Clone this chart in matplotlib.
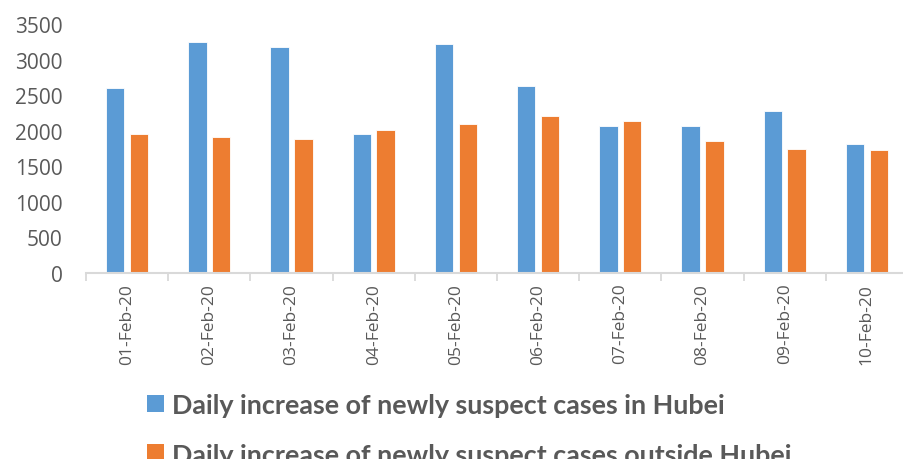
import matplotlib
matplotlib.use("Agg")
import matplotlib.pyplot as plt
import numpy as np

dates = ["01-Feb-20", "02-Feb-20", "03-Feb-20", "04-Feb-20", "05-Feb-20",
         "06-Feb-20", "07-Feb-20", "08-Feb-20", "09-Feb-20", "10-Feb-20"]
hubei = [2600, 3253, 3173, 1960, 3220, 2622, 2072, 2062, 2273, 1811]
outside = [1950, 1913, 1890, 2011, 2100, 2208, 2137, 1853, 1736, 1722]
series_names = ["Daily increase of newly suspect cases in Hubei",
                "Daily increase of newly suspect cases outside Hubei"]
yticks = [0, 500, 1000, 1500, 2000, 2500, 3000, 3500]

BLUE = "#5B9BD5"
ORANGE = "#ED7D31"
GRAY = "#595959"

W, H = 904, 460
fig = plt.figure(figsize=(W / 100, H / 100), dpi=100)
ax = fig.add_axes([86 / W, (H - 274) / H, (908 - 86) / W, (274 - 25) / H])

x = np.arange(len(dates))
bw = 0.225
b1 = ax.bar(x - 0.145, hubei, bw, color=BLUE, edgecolor="white", linewidth=0.6,
            label=series_names[0])
b2 = ax.bar(x + 0.145, outside, bw, color=ORANGE, edgecolor="white", linewidth=0.6,
            label=series_names[1])

ax.set_xlim(-0.5, len(dates) - 0.5)
ax.set_ylim(0, 3500)
ax.set_yticks(yticks)
ax.set_yticklabels([str(v) for v in yticks], fontfamily="Open Sans", fontsize=15, color=GRAY)
ax.tick_params(axis="y", length=0, pad=17)

ax.set_xticks(x)
ax.set_xticklabels(dates, rotation=90, fontfamily="Open Sans", fontsize=12.5, color=GRAY)
ax.tick_params(axis="x", which="major", length=0, pad=7)
ax.set_xticks(np.arange(-0.5, len(dates), 1.0), minor=True)
ax.tick_params(axis="x", which="minor", length=6, width=1.3, color="#D9D9D9", direction="out")

for s in ["left", "right", "top"]:
    ax.spines[s].set_visible(False)
ax.spines["bottom"].set_color("#D9D9D9")
ax.spines["bottom"].set_linewidth(1.5)

leg = fig.legend(handles=[b1, b2], labels=series_names, loc="upper left",
                 bbox_to_anchor=(147 / W, 1 - 394 / H), frameon=False,
                 prop={"family": "Lato", "weight": "bold", "size": 19.4},
                 handlelength=0.62, handleheight=0.62, handletextpad=0.3,
                 labelspacing=0.95, borderaxespad=0, borderpad=0)
for t in leg.get_texts():
    t.set_color(GRAY)
for h in leg.legend_handles:
    h.set_edgecolor("none")

fig.savefig("out.png", dpi=100)
